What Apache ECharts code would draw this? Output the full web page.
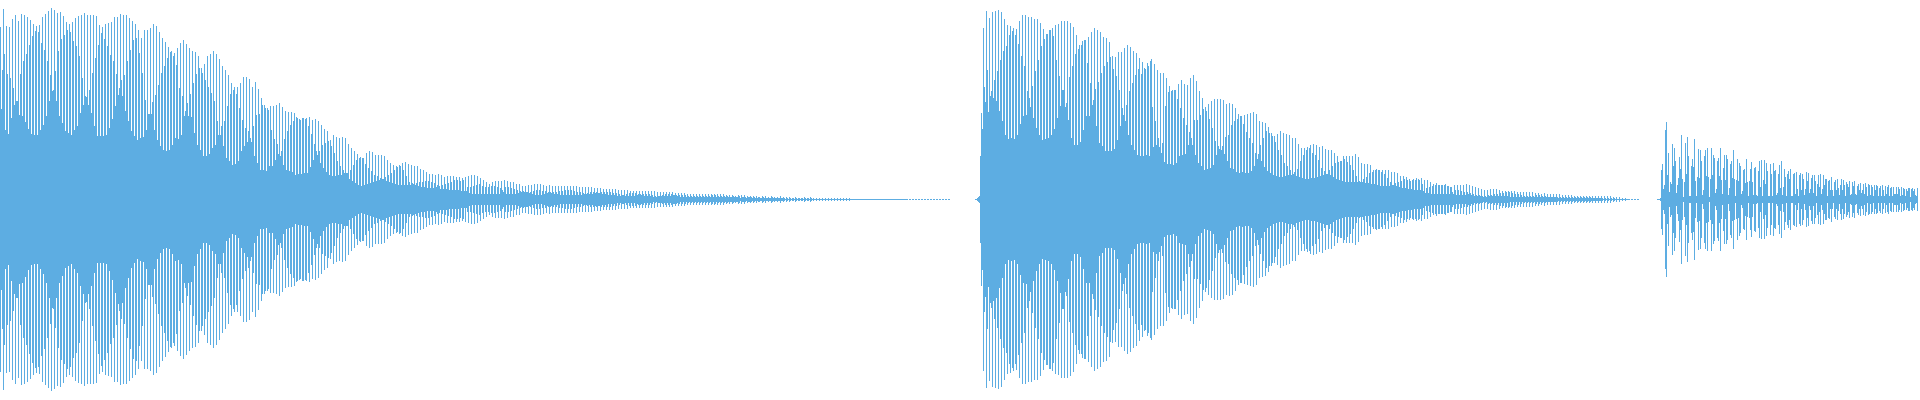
<!DOCTYPE html>
<html><head><meta charset="utf-8">
<style>html,body{margin:0;padding:0;background:#fff}#c{width:1920px;height:400px}</style>
<script src="https://cdn.jsdelivr.net/npm/echarts@6/dist/echarts.min.js"></script>
</head><body><div id="c"></div>
<script>
const burst1Peak=[172,190,173,172,180,184,178,185,184,182,179,175,173,174,182,185,188,191,189,186,187,183,177,175,177,181,183,184,186,184,184,184,183,174,172,175,176,177,182,182,185,184,184,181,178,175,169,161,169,169,171,175,173,167,161,157,152,148,146,151,156,159,155,151,148,147,143,
131,135,143,145,148,145,140,133,129,124,116,112,112,116,122,122,120,112,117,110,101,94,91,93,93,94,96,92,88,87,87,86,81,79,81,81,82,79,80,78,74,70,68,59,64,62,61,62,61,55,51,48,45,42,41,46,48,47,44,44,44,43,39,36,34,33,34,36,37,35,34,33,33,30,29,27,25,25,24,25,24,22,23,23,23,22,22,21,22,23,24,24,23,21,19,17,15,17,18,18,
18,19,18,17,17,15,15,13,13,14,14,15,15,15,14,13,14,13,13,13,13,13,13,13,13,13,12,12,12,12,12,11,11,11,10,10,10,10,10,9,9,9,9,8,8,8,8,8,8,8,8,8,7,7,7,7,7,7,6,6,6,6,5,5,5,5,5,5,5,5,5,5,5,5,5,
4,4,4,3,4,4,4,3,3,3,3,2,3,3,2,3,2,2,3,2,2,2,1,2,1,1,2,1,2,1,1,1,1,1,1,1,1,1,1,1,1,1,0,0,0,0,0,0,0,0,0,0,0,0,0,0,0,0,0,0,0,0,0,0,0,0,0,0,0,0,0,0,0,0,0];
const burst1Mid=[90,145,125,121,111,98,84,83,77,70,65,64,64,69,74,83,98,108,128,148,160,164,169,167,158,153,143,121,103,94,86,73,63,63,63,64,71,80,93,104,119,124,138,149,159,161,146,126,99,85,85,69,59,53,49,48,49,54,61,60,64,83,96,105,116,125,131,
126,119,112,106,98,78,64,53,41,38,34,35,38,48,53,57,61,73,84,85,94,91,89,69,60,55,43,34,29,28,27,24,25,25,26,26,32,39,48,48,54,56,58,53,46,38,33,29,26,20,18,16,14,13,14,15,16,17,18,19,20,22,24,26,29,32,33,29,23,17,16,14,13,12,12,11,11,11,12,13,14,15,16,17,19,19,18,19,8,6,5,5,5,5,5,5,5,5,5,5,
9,12,12,11,10,9,8,8,7,6,5,4,4,4,5,6,7,7,7,8,8,9,9,9,8,7,7,6,5,5,5,6,6,7,7,7,7,6,6,5,4,3,3,3,3,4,5,5,5,5,4,3,3,3,3,3,3,4,4,4,4,4,3,3,3,3,3,3,3,3,4,4,3,3,3,
3,2,3,2,3,2,2,2,2,2,1,1,2,1,1,2,1,1,1,1,1,1,1,1,1,1,1,1,1,0,0,0,0,0,0,0,0,0,0,0,0,0,0,0,0,0,0,0,0,0,0,0,0,0,0,0,0,0,0,0,0,0,0,0,0,0,0,0,0,0,0,0,0,0,0];
const burst1Low=[129,69,65,81,94,98,125,138,145,154,163,168,167,156,149,138,124,109,98,83,76,68,66,64,69,73,86,94,102,109,126,141,154,166,160,153,144,138,125,111,103,88,78,68,63,59,61,62,69,85,97,104,114,126,133,141,147,143,134,111,103,88,83,82,66,54,49,
43,43,45,51,54,64,73,78,93,105,109,105,91,79,71,68,57,43,36,29,29,28,33,33,39,45,48,60,68,74,78,82,80,81,80,73,65,55,44,36,31,27,24,23,23,24,24,26,26,29,34,39,41,41,35,31,28,24,23,21,20,18,17,16,15,14,14,14,14,14,15,16,17,17,18,18,17,16,14,10,10,10,9,9,9,9,8,8,12,12,13,14,15,13,12,12,13,13,12,11,
7,5,5,5,5,6,7,7,7,7,8,9,9,8,8,7,6,5,5,4,4,4,4,4,4,4,4,5,6,7,7,7,6,5,5,4,4,4,3,3,4,5,6,6,6,5,4,3,3,3,2,2,3,4,5,5,5,4,3,2,2,2,2,2,2,2,2,2,2,2,2,2,2,2,2,
2,2,2,2,1,2,1,2,1,1,2,1,1,1,1,1,1,1,1,0,0,0,0,0,0,0,0,0,0,0,0,0,0,0,0,0,0,0,0,0,0,0,0,0,0,0,0,0,0,0,0,0,0,0,0,0,0,0,0,0,null,null,null,null,null,null,null,null,null,null,null,null,null,null,null];
const burst2Onset=[0,0,1,2,3,43,86,70];
const burst2Peak=[171,188,181,187,188,189,187,180,174,173,171,170,178,184,184,182,182,180,180,176,170,165,169,171,174,175,178,178,178,176,172,164,154,158,159,162,167,171,169,167,162,161,157,143,142,147,147,151,154,152,148,146,141,137,130,133,
140,135,129,126,126,121,113,109,109,115,119,115,114,121,124,118,108,101,92,95,98,100,100,100,99,95,96,95,91,85,83,84,85,86,87,85,78,77,76,72,66,63,65,68,66,65,64,61,61,55,51,51,52,54,55,54,52,53,50,49,49,46,43,38,43,43,43,43,45,42,36,35,35,34,29,30,29,29,29,29,27,27,26,23,23,22,20,19,19,20,21,19,19,17,15,16,14,14,15,13,
12,14,14,14,14,15,14,13,12,11,10,9,9,10,10,10,9,8,8,8,8,8,7,7,7,7,7,7,6,6,5,6,5,5,5,5,5,4,4,4,4,3,3,3,3,3,3,3,3,3,3,3,3,3,2,2,2,1,1,0,0,0,0];
const burst2Mid=[112,129,103,101,98,88,78,64,60,61,60,64,75,83,84,101,113,128,139,153,160,165,169,163,139,123,109,92,79,61,54,54,57,69,83,83,94,110,117,126,133,137,142,130,123,109,91,78,64,54,49,44,43,43,44,43,
92,78,61,46,37,35,35,34,36,43,44,45,54,61,79,79,84,90,88,80,71,58,53,49,45,38,31,30,27,26,27,26,26,28,33,40,54,61,68,66,63,57,49,44,36,33,29,25,23,22,21,20,20,21,21,22,23,24,25,29,33,36,37,38,40,37,34,29,23,18,17,16,16,15,15,14,13,13,13,13,14,16,17,18,20,19,18,20,21,19,15,6,6,5,5,5,5,5,5,5,
7,9,9,8,7,7,6,5,4,4,3,3,4,4,5,5,6,6,7,7,6,5,5,4,3,3,3,3,4,4,3,3,2,2,2,2,2,2,2,2,2,2,2,2,2,2,2,1,1,1,1,1,1,1,1,0,0,0,0,0,0,0,0];
const burst2Low=[97,87,108,119,128,139,148,153,164,168,164,155,143,133,108,92,81,71,64,59,60,61,64,70,81,93,109,96,122,133,145,150,154,159,136,116,99,73,56,53,48,48,48,50,59,73,84,94,108,116,124,130,125,131,136,138,
52,54,52,56,93,107,108,109,100,91,81,74,67,54,44,36,33,29,30,31,34,44,50,53,62,64,74,78,80,83,75,67,61,56,46,45,38,32,28,26,24,23,22,22,23,24,24,27,30,38,44,49,51,46,44,39,31,28,25,24,22,20,19,18,17,17,17,17,17,17,20,22,26,27,29,29,27,25,21,17,14,13,12,11,11,10,10,9,9,9,8,11,12,13,14,14,14,14,13,12,
5,4,4,4,4,5,4,3,3,3,2,2,3,3,3,3,3,3,3,2,2,2,2,2,2,2,2,2,2,2,2,2,2,2,2,1,1,1,1,1,1,1,1,1,1,1,1,1,1,1,0,0,0,0,0,0,0,0,0,null,null,null,null];
const burst3=[0,0,0,1,29,35,10,14,69,77,24,46,7,17,15,55,33,51,38,6,14,21,42,30,64,20,2,17,56,25,62,43,3,3,33,40,32,60,18,3,22,50,21,49,38,4,9,43,49,23,51,22,2,20,51,24,44,41,6,10,38,41,23,51,19,5,31,44,19,44,40,4,11,35,38,21,49,20,3,19,40,18,36,33,5,8,29,30,16,40,17,3,18,30,
37,17,4,31,32,4,3,28,38,12,39,3,19,39,15,36,28,3,3,35,25,3,36,28,29,4,6,25,34,11,38,4,12,30,22,3,25,28,20,30,3,3,25,26,5,27,10,3,24,26,9,25,20,4,10,27,18,26,6,10,21,24,6,24,18,3,15,24,12,25,5,10,24,14,20,20,3,18,19,9,22,9,3,17,19,9,20,11,4,14,20,9,19,14,3,17,15,12,18,4,5,17,13,18,5,4,13,15,9,16,6,9,15,5,16,12,3,15,14,4,14,12,3,14,9,14,13,3,11,13,3,14,9,3,13,5,12,14,3,11,12,3,12,5,5,12,5,12,10,3,12,4,11,10,3,10,8,11,11,2,10,11,8,10,4,3,11];
const burst1Start=0, burst2Start=975, burst3Start=1657, columnCount=1920;

const amplitude=new Array(columnCount).fill(null);
function putCycles(start,peak,mid,low){
  peak.forEach((v,i)=>{
    amplitude[start+3*i]=v;
    amplitude[start+3*i+1]=mid[i]===undefined?null:mid[i];
    amplitude[start+3*i+2]=low[i]===undefined?null:low[i];
  });
}
putCycles(burst1Start,burst1Peak,burst1Mid,burst1Low);
burst2Onset.forEach((v,i)=>{amplitude[burst2Start+i]=v;});
putCycles(burst2Start+burst2Onset.length,burst2Peak,burst2Mid,burst2Low);
burst3.forEach((v,i)=>{if(burst3Start+i<columnCount)amplitude[burst3Start+i]=v;});
const columns=amplitude.map((_,i)=>i);
const upper=amplitude.map(v=>v===null?null:v+1);
const lower=amplitude.map(v=>v===null?null:-v);
const chart=echarts.init(document.getElementById('c'),null,{renderer:'canvas'});
const barStyle={type:'bar',barWidth:1,barGap:'-100%',silent:true,animation:false,itemStyle:{color:'#5dade2'}};
chart.setOption({
  animation:false,
  grid:{left:0,right:0,top:0,bottom:0},
  xAxis:{type:'category',data:columns,show:false,boundaryGap:true},
  yAxis:{type:'value',min:-200,max:200,show:false},
  series:[Object.assign({data:upper},barStyle),Object.assign({data:lower},barStyle)]
});
</script></body></html>
